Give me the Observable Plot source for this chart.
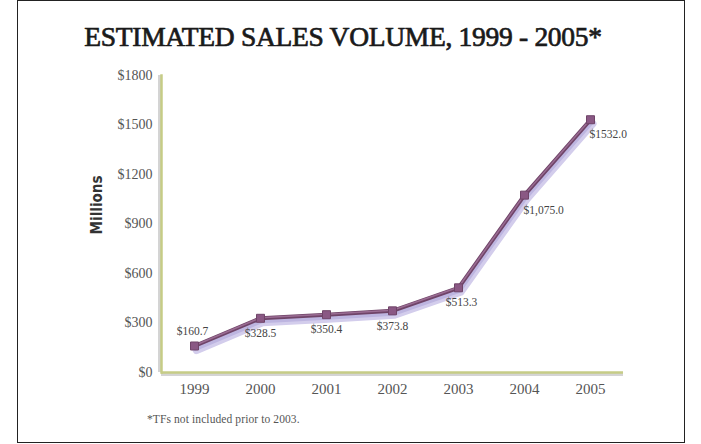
<!DOCTYPE html>
<html>
<head>
<meta charset="utf-8">
<script src="https://cdn.jsdelivr.net/npm/d3@7"></script>
<script src="https://cdn.jsdelivr.net/npm/@observablehq/plot@0.6"></script>
<style>
  html, body { margin: 0; padding: 0; background: #fff; }
  #wrap { position: relative; width: 701px; height: 444px; overflow: hidden; }
  #frame { position: absolute; left: 17px; top: 0px; width: 666px; height: 441px; border: 1.5px solid #222; box-sizing: content-box; }
  #title { position: absolute; left: 17px; width: 652px; top: 21px; text-align: center;
    font-family: "Liberation Serif", "DejaVu Serif", serif; font-weight: normal; font-size: 27.5px; color: #1a1a1a;
    -webkit-text-stroke: 0.7px #1a1a1a; letter-spacing: -0.3px; }
  #chart { position: absolute; left: 0; top: 62px; }
  #note { position: absolute; left: 147px; top: 413px; font-family: "Liberation Serif", serif;
    font-size: 11.5px; color: #555; letter-spacing: 0.1px; }
  #ylab { position: absolute; left: 97px; top: 205px; transform: translate(-50%, -50%) rotate(-90deg);
    font-family: "DejaVu Sans Condensed", sans-serif; font-weight: bold; font-size: 15px; color: #333; white-space: nowrap; }
</style>
</head>
<body>
<div id="wrap">
  <div id="frame"></div>
  <div id="title">ESTIMATED SALES VOLUME, 1999 - 2005*</div>
  <div id="chart"></div>
  <div id="ylab">Millions</div>
  <div id="note">*TFs not included prior to 2003.</div>
</div>
<script>
const years = ["1999", "2000", "2001", "2002", "2003", "2004", "2005"];
const sales = [160.7, 328.5, 350.4, 373.8, 513.3, 1075.0, 1532.0];
const valueLabels = ["$160.7", "$328.5", "$350.4", "$373.8", "$513.3", "$1,075.0", "$1532.0"];
const yTicks = [0, 300, 600, 900, 1200, 1500, 1800];

const data = years.map((y, i) => ({year: y, value: sales[i], label: valueLabels[i], i}));
const serif = '"Liberation Serif", serif';

const chart = Plot.plot({
  width: 701,
  height: 350,
  marginTop: 13,
  marginBottom: 40,
  marginLeft: 161,
  marginRight: 78,
  style: {background: "transparent", fontFamily: serif},
  x: {type: "point", domain: years, padding: 0.5, label: null},
  y: {domain: [0, 1800], label: null},
  marks: [
    // axis shadows
    Plot.ruleY([0], {stroke: "#d4d4d4", strokeWidth: 3, dy: 2}),
    Plot.ruleX([years[0]], {stroke: "#d4d4d4", strokeWidth: 3, dx: -35, y1: 0, y2: 1800}),
    Plot.ruleY([0], {stroke: "#c6cc86", strokeWidth: 2.5}),
    Plot.axisX({tickSize: 0, tickPadding: 11, fontSize: 15, fill: "#555", anchor: "bottom"}),
    Plot.axisY({ticks: yTicks, tickFormat: d => "$" + d, tickSize: 0, tickPadding: 9, fontSize: 14, fill: "#555", anchor: "left"}),
    Plot.frame({anchor: "left", stroke: "#c6cc86", strokeWidth: 2.5, strokeOpacity: 1}),
    // shadow
    Plot.line(data, {x: "year", y: "value", stroke: "#d3cdec", strokeWidth: 8, dx: 2, dy: 4}),
    Plot.line(data, {x: "year", y: "value", stroke: "#bdb5e0", strokeWidth: 4, dx: 1, dy: 3}),
    // main line
    Plot.line(data, {x: "year", y: "value", stroke: "#6f4468", strokeWidth: 4}),
    Plot.line(data, {x: "year", y: "value", stroke: "#9a6c93", strokeWidth: 1.5, dy: -0.5}),
    Plot.dot(data, {x: "year", y: "value", symbol: "square", r: 4.5, fill: "#8a5884", stroke: "#6f4468", strokeWidth: 1}),
    // value labels
    Plot.text(data.filter(d => d.i === 0), {x: "year", y: "value", text: "label", dy: -15, dx: -2, fontSize: 11.5, fill: "#444"}),
    Plot.text(data.filter(d => d.i >= 1 && d.i <= 3), {x: "year", y: "value", text: "label", dy: 15, dx: 0, fontSize: 11.5, fill: "#444"}),
    Plot.text(data.filter(d => d.i === 4), {x: "year", y: "value", text: "label", dy: 15, dx: 3, fontSize: 11.5, fill: "#444"}),
    Plot.text(data.filter(d => d.i >= 5), {x: "year", y: "value", text: "label", dy: 15, dx: -1, textAnchor: "start", fontSize: 11.5, fill: "#444"})
  ]
});
document.getElementById("chart").appendChild(chart);
</script>
</body>
</html>
